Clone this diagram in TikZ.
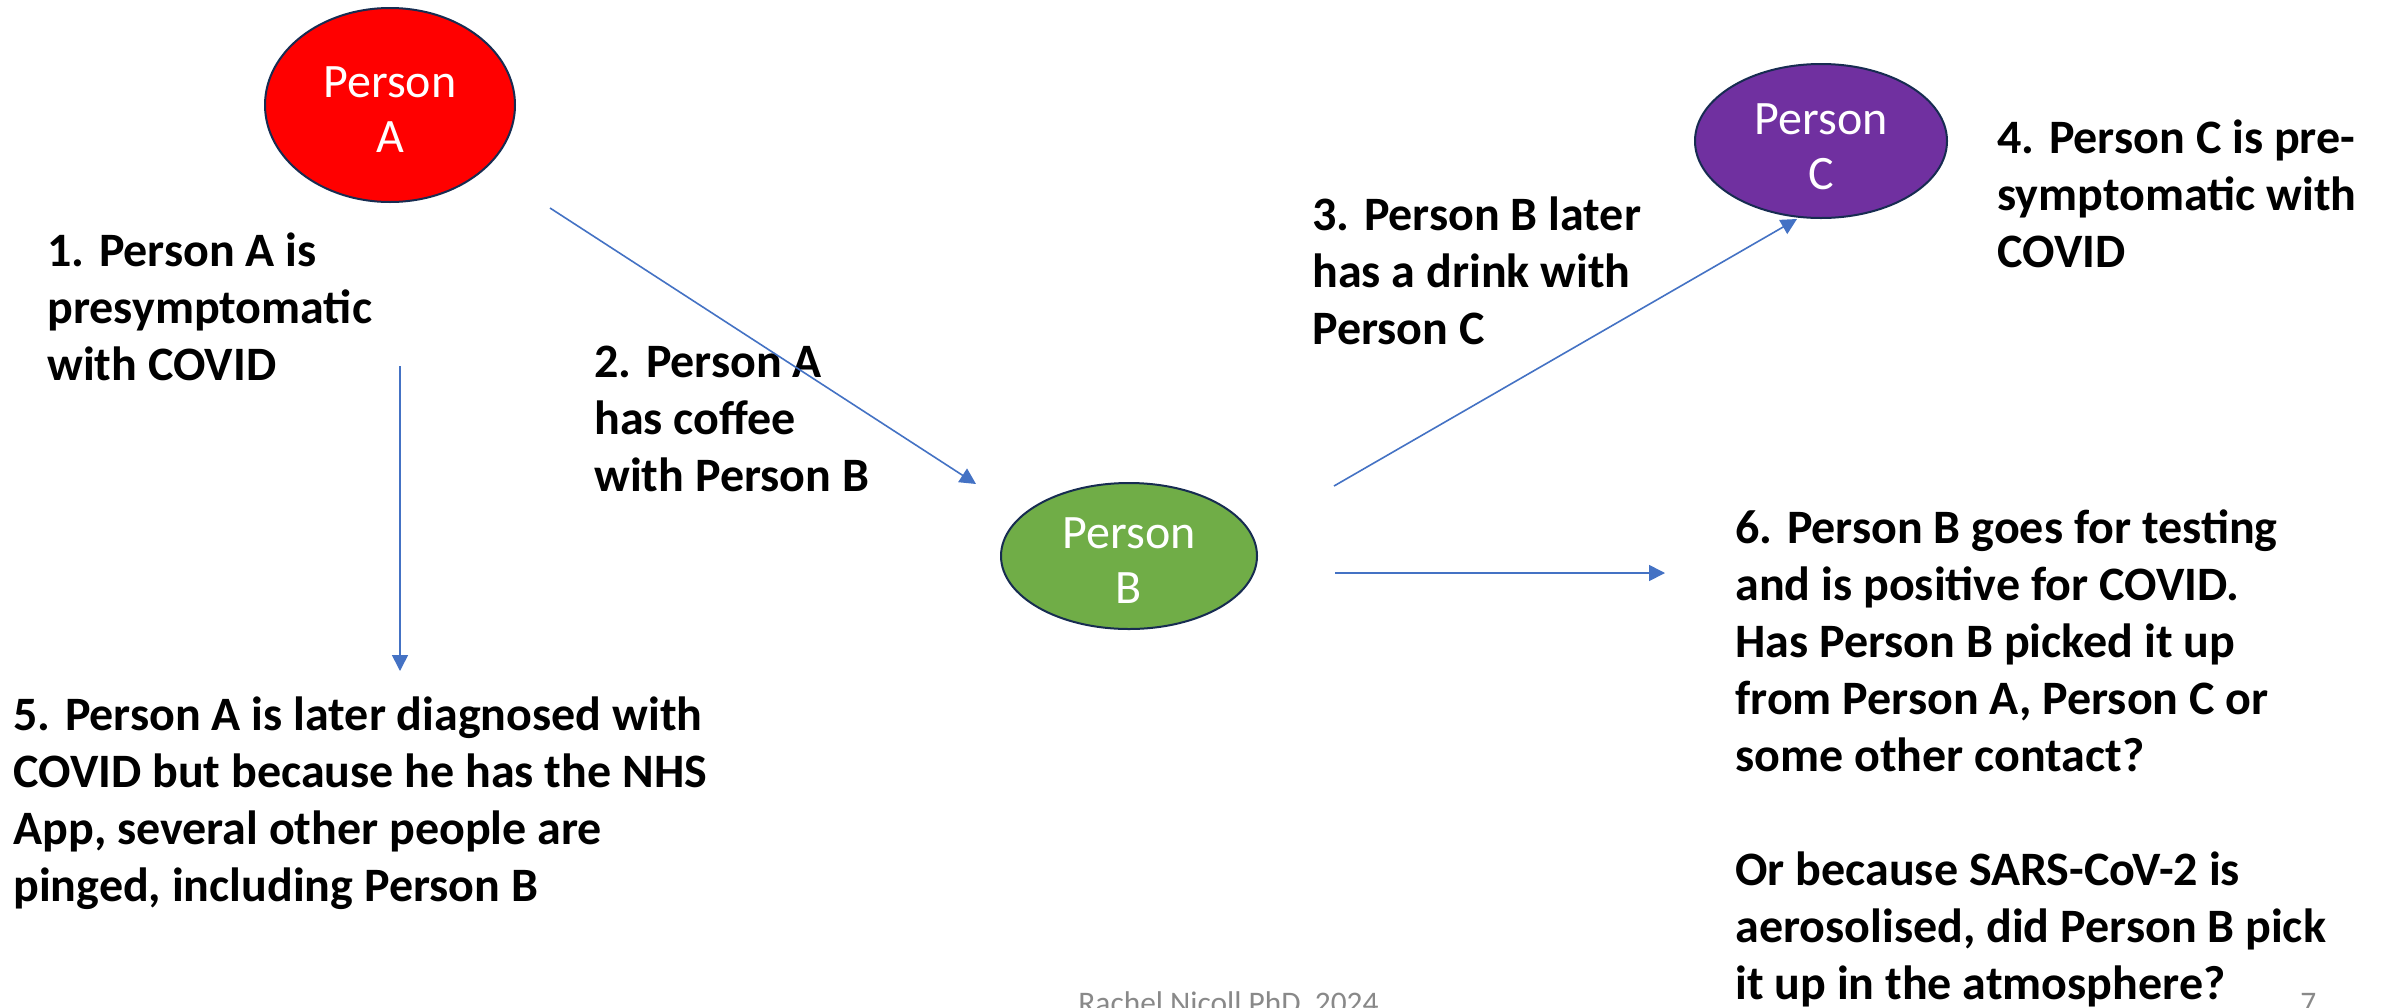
\documentclass[tikz,border=0pt]{standalone}
\usepackage{fontspec}
\setmainfont{Carlito}
\usetikzlibrary{shapes.geometric,arrows.meta}
\definecolor{redA}{HTML}{FF0000}
\definecolor{greenB}{HTML}{70AD47}
\definecolor{purpleC}{HTML}{7030A0}
\definecolor{edgeblue}{HTML}{172C51}
\definecolor{arrowblue}{HTML}{4472C4}
\definecolor{footgray}{HTML}{898989}
\begin{document}
\begin{tikzpicture}[x=0.5pt,y=-0.5pt,
  person/.style={ellipse, draw=edgeblue, line width=1pt, inner sep=0pt},
  pname/.style={text=white, align=center, inner sep=0pt, font=\fontsize{24}{27.5}\selectfont},
  note/.style={anchor=base west, align=left, inner sep=0pt, font=\fontsize{24}{28.5}\selectfont\bfseries},
  link/.style={draw=arrowblue, line width=0.8pt, -{Triangle[length=8pt,width=8pt]}},
  foot/.style={anchor=base west, inner sep=0pt, text=footgray, font=\fontsize{15.7}{19}\selectfont}]
\clip (0,0) rectangle (2382,1007);
\fill[white] (0,0) rectangle (2382,1007);

\node[person, fill=redA, minimum width=125pt, minimum height=97pt] (A) at (390,105) {};
\node[person, fill=greenB, minimum width=128pt, minimum height=73pt] (B) at (1129,556) {};
\node[person, fill=purpleC, minimum width=126pt, minimum height=77pt] (C) at (1821,141) {};
\node[pname] (Aname) at (390,110) {Person\\A};
\node[pname] (Bname) at (1129,561) {Person\\B};
\node[pname] (Cname) at (1821,147) {Person\\C};

\node[note] (t1) at (47,380) {1. Person A is\\presymptomatic\\with COVID};
\node[note] (t2) at (594,491) {2. Person A\\has coffee\\with Person B};
\node[note] (t3) at (1312,344) {3. Person B later\\has a drink with\\Person C};
\node[note] (t4) at (1997,267) {4. Person C is pre-\\symptomatic with\\COVID};
\node[note] (t5) at (13,901) {5. Person A is later diagnosed with\\COVID but because he has the NHS\\App, several other people are\\pinged, including Person B};
\node[note] (t6) at (1735,999) {6. Person B goes for testing\\and is positive for COVID.\\Has Person B picked it up\\from Person A, Person C or\\some other contact?\\[28.5pt]Or because SARS-CoV-2 is\\aerosolised, did Person B pick\\it up in the atmosphere?};

\node[foot] (f1) at (1078,1013) {Rachel Nicoll PhD, 2024};
\node[foot] (f2) at (2300,1013) {7};

\coordinate (a1) at (550,208);
\coordinate (a2) at (976,484);
\coordinate (b1) at (1334,486);
\coordinate (b2) at (1797,219);
\coordinate (v1) at (400,366);
\coordinate (v2) at (400,671);
\coordinate (h1) at (1335,573);
\coordinate (h2) at (1665,573);

\draw[link] (a1) -- (a2);
\draw[link] (b1) -- (b2);
\draw[link] (v1) -- (v2);
\draw[link] (h1) -- (h2);
\end{tikzpicture}
\end{document}
